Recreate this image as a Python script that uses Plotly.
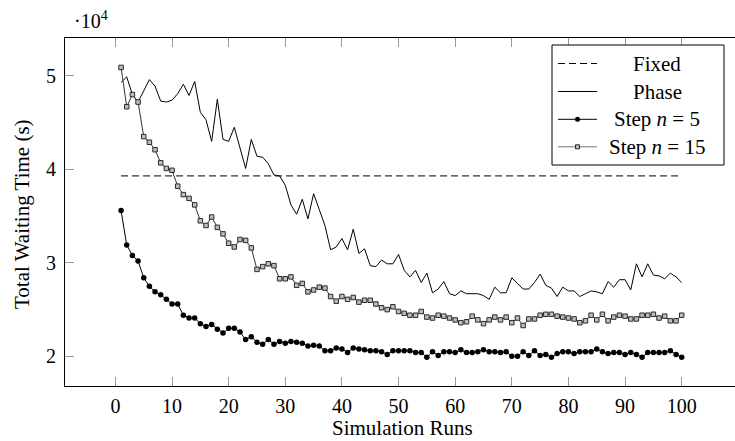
import plotly.graph_objects as go

runs = list(range(1, 101))

fixed = [39300] * 100

phase = [49300, 49900, 48000, 47200, 48400, 49600, 48900, 47300, 47200, 47400,
         48100, 49100, 47900, 49400, 46100, 45300, 43000, 47500, 43200, 43000,
         44500, 42400, 40100, 43200, 41400, 41300, 40600, 39400, 39300, 38300,
         36200, 35200, 36800, 34700, 37400, 35700, 34000, 31400, 31700, 32600,
         31400, 33600, 31000, 31500, 29700, 29600, 30300, 29900, 29900, 30900,
         29200, 28500, 29200, 27900, 28900, 26800, 27200, 28000, 26700, 26500,
         27000, 26700, 26700, 26700, 26500, 26100, 27400, 26800, 26800, 28400,
         27800, 27200, 27200, 27900, 28800, 27600, 27300, 26400, 27400, 27000,
         27000, 26400, 26700, 27000, 26900, 26700, 28000, 27400, 28200, 28200,
         27100, 29900, 28500, 29900, 28700, 28600, 28300, 28900, 28500, 27900]

step5 = [35600, 31900, 30800, 30200, 28400, 27500, 26900, 26600, 26100, 25600,
         25600, 24400, 24100, 24100, 23500, 23200, 23400, 22900, 22500, 23000,
         23000, 22600, 21800, 22100, 21500, 21300, 21800, 21300, 21600, 21400,
         21600, 21500, 21400, 21100, 21200, 21100, 20600, 20600, 20900, 20800,
         20400, 20900, 20800, 20700, 20600, 20600, 20500, 20200, 20600, 20600,
         20600, 20600, 20400, 20400, 19900, 20500, 20100, 20500, 20500, 20400,
         20700, 20400, 20400, 20500, 20700, 20500, 20500, 20400, 20500, 20000,
         20000, 20500, 20100, 20600, 20100, 20200, 19900, 20300, 20500, 20500,
         20300, 20500, 20500, 20500, 20800, 20500, 20300, 20400, 20400, 20200,
         20400, 20200, 19900, 20400, 20400, 20400, 20400, 20600, 20200, 19900]

step15 = [50900, 46700, 48000, 47200, 43500, 42900, 42100, 40700, 40100, 39900,
          38200, 37300, 36900, 36200, 34500, 34000, 34900, 33800, 33100, 32100,
          31700, 32500, 32400, 31600, 29300, 29600, 29900, 29700, 28300, 28300,
          28500, 27600, 27800, 26900, 27100, 27400, 27300, 26400, 25900, 26400,
          26100, 26300, 25800, 26000, 26000, 25600, 25200, 25000, 25300, 24800,
          24600, 24400, 24400, 24800, 24200, 24100, 24400, 24300, 24100, 23900,
          23600, 23700, 24300, 23900, 23500, 23900, 24200, 23900, 24200, 23600,
          24100, 23300, 24000, 24000, 24400, 24500, 24500, 24300, 24200, 24100,
          24000, 23600, 23800, 24400, 23900, 24500, 23800, 24200, 24400, 24300,
          24000, 24000, 24400, 24400, 24500, 24100, 24300, 23800, 23800, 24400]

x_ticks = [0, 10, 20, 30, 40, 50, 60, 70, 80, 90, 100]
y_ticks = [20000, 30000, 40000, 50000]
y_tick_text = ["2", "3", "4", "5"]

FONT = "Liberation Serif, Times New Roman, DejaVu Serif, serif"
W, H = 735, 441
L, R, T, B = 65, 0, 38, 55
PW, PH = W - L - R, H - T - B


def px(xp):
    return (xp - L) / PW


def py(yp):
    return (H - B - yp) / PH


fig = go.Figure()
fig.add_trace(go.Scatter(x=runs, y=fixed, mode="lines", name="Fixed",
                         line=dict(color="black", width=1, dash="7px,4px")))
fig.add_trace(go.Scatter(x=runs, y=phase, mode="lines", name="Phase",
                         line=dict(color="black", width=1)))
fig.add_trace(go.Scatter(x=runs, y=step15, mode="lines+markers", name="Step n = 15",
                         line=dict(color="#333333", width=1),
                         marker=dict(symbol="square", size=4.5, color="#bdbdbd",
                                     line=dict(color="#2a2a2a", width=1))))
fig.add_trace(go.Scatter(x=runs, y=step5, mode="lines+markers", name="Step n = 5",
                         line=dict(color="black", width=1),
                         marker=dict(symbol="circle", size=5.5, color="black",
                                     line=dict(width=0))))

ax_common = dict(showgrid=False, zeroline=False, ticks="inside", ticklen=9,
                 tickcolor="#9a9a9a", tickwidth=1,
                 tickfont=dict(family=FONT, size=20, color="black"))

fig.update_layout(
    width=W, height=H,
    margin=dict(l=L, r=R, t=T, b=B),
    paper_bgcolor="white", plot_bgcolor="white",
    showlegend=False,
    font=dict(family=FONT, color="black"),
    xaxis=dict(range=[-8.9, -8.9 + PW / 5.663], tickvals=x_ticks,
               showline=True, linecolor="black", linewidth=1, mirror="ticks",
               ticklabelstandoff=2, **ax_common),
    yaxis=dict(range=[16830, 54050], tickvals=y_ticks, ticktext=y_tick_text,
               showline=True, linecolor="black", linewidth=1, mirror=False,
               ticklabelstandoff=4, **ax_common),
    yaxis2=dict(range=[16830, 54050], overlaying="y", side="right",
                tickvals=y_ticks, showticklabels=False, showline=False,
                showgrid=False, zeroline=False, ticks="inside", ticklen=7,
                tickcolor="#9a9a9a"),
)

ann = []
ann.append(dict(text="Simulation Runs", x=px(402), y=py(428), xref="paper", yref="paper",
                showarrow=False, xanchor="center", yanchor="middle",
                font=dict(family=FONT, size=21, color="black")))
ann.append(dict(text="Total Waiting Time (s)", x=px(22), y=py(214), xref="paper",
                yref="paper", showarrow=False, textangle=-90, xanchor="center",
                yanchor="middle", font=dict(family=FONT, size=21, color="black")))
ann.append(dict(text="·10<sup>4</sup>", x=px(91), y=py(20), xref="paper", yref="paper",
                showarrow=False, xanchor="center", yanchor="middle",
                font=dict(family=FONT, size=20, color="black")))

# manual legend (pgfplots style, centred text)
shapes = []
shapes.append(dict(type="rect", xref="paper", yref="paper", x0=px(552), x1=px(724),
                   y0=py(165), y1=py(45), line=dict(color="black", width=1),
                   fillcolor="white", layer="above"))
rows = [63.5, 91.5, 119.3, 146.8]
labels = ["Fixed", "Phase", "Step <i>n</i> = 5", "Step <i>n</i> = 15"]
styles = [("black", "7px,4px"), ("black", "solid"), ("black", "solid"), ("#777777", "solid")]
for yy, lab, (col, dash) in zip(rows, labels, styles):
    shapes.append(dict(type="line", xref="paper", yref="paper", x0=px(558), x1=px(597),
                       y0=py(yy), y1=py(yy), line=dict(color=col, width=1, dash=dash),
                       layer="above"))
    ann.append(dict(text=lab, x=px(657), y=py(yy), xref="paper", yref="paper",
                    showarrow=False, xanchor="center", yanchor="middle",
                    font=dict(family=FONT, size=21, color="black")))
cx = 577.5
shapes.append(dict(type="circle", xref="paper", yref="paper", x0=px(cx - 2.5), x1=px(cx + 2.5),
                   y0=py(rows[2] + 2.5), y1=py(rows[2] - 2.5), fillcolor="black",
                   line=dict(width=0), layer="above"))
shapes.append(dict(type="rect", xref="paper", yref="paper", x0=px(cx - 2), x1=px(cx + 2),
                   y0=py(rows[3] + 2), y1=py(rows[3] - 2), fillcolor="#bdbdbd",
                   line=dict(color="#2a2a2a", width=1), layer="above"))

fig.update_layout(annotations=ann, shapes=shapes)
fig.write_html("out.html", config={"displayModeBar": False},
               post_script="document.body.style.margin='0';document.body.style.overflow='hidden';")
